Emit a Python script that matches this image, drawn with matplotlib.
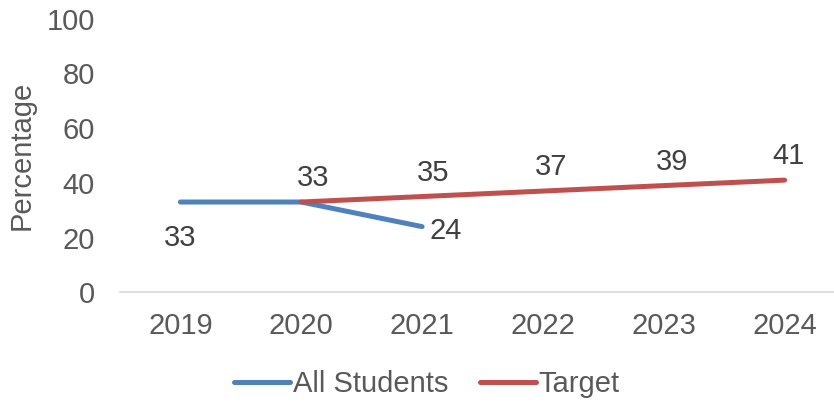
import matplotlib
matplotlib.use("Agg")
import matplotlib.pyplot as plt
from matplotlib.lines import Line2D

plt.rcParams['font.family'] = ['Liberation Sans', 'DejaVu Sans']

years = ["2019", "2020", "2021", "2022", "2023", "2024"]
all_students = [33, 33, 24]
target = [33, 35, 37, 39, 41]
y_ticks = [0, 20, 40, 60, 80, 100]

blue = "#4F81BD"
red = "#C0504D"
txt = "#595959"
lbl = "#404040"
FS = 21

fig = plt.figure(figsize=(8.34, 4.03), dpi=100)
W, H = 834, 403
ax = fig.add_axes([120 / W, (H - 292.3) / H, 725 / W, 273.6 / H])

x_all = list(range(len(all_students)))
x_tgt = list(range(1, 1 + len(target)))
ax.plot(x_all, all_students, color=blue, lw=3.6, solid_capstyle='round', zorder=3)
ax.plot(x_tgt, target, color=red, lw=3.6, solid_capstyle='round', zorder=4)

ax.set_xlim(-0.5, len(years) - 0.5)
ax.set_ylim(0, 100)
ax.set_yticks(y_ticks)
ax.set_xticks(range(len(years)))
ax.set_xticklabels(years)
ax.tick_params(axis='both', length=0, labelsize=FS, colors=txt)
ax.tick_params(axis='y', pad=18)
ax.tick_params(axis='x', pad=14)
for s in ['top', 'right', 'left']:
    ax.spines[s].set_visible(False)
ax.spines['bottom'].set_color("#D9D9D9")
ax.spines['bottom'].set_linewidth(1.2)

ax.set_ylabel("Percentage", fontsize=FS, color=txt)
ax.yaxis.set_label_coords(-0.117, 0.5)

# data labels
ax.annotate(str(all_students[0]), (x_all[0], all_students[0]), xytext=(0, -36),
            textcoords='offset pixels', ha='center', va='center', fontsize=FS, color=lbl)
ax.annotate(str(all_students[2]), (x_all[2], all_students[2]), xytext=(24, -4),
            textcoords='offset pixels', ha='center', va='center', fontsize=FS, color=lbl)
dx_offsets = [12, 11, 8, 8, 4]
for xi, v, dx in zip(x_tgt, target, dx_offsets):
    ax.annotate(str(v), (xi, v), xytext=(dx, 24), textcoords='offset pixels',
                ha='center', va='center', fontsize=FS, color=lbl)

handles = [Line2D([], [], color=blue, lw=3.6, solid_capstyle='round'),
           Line2D([], [], color=red, lw=3.6, solid_capstyle='round')]
leg = fig.legend(handles, ["All Students", "Target"], loc='center',
                 bbox_to_anchor=(427 / W, 1 - 384 / H), ncol=2, frameon=False,
                 fontsize=FS, handlelength=1.9, handletextpad=0.1, columnspacing=1.1,
                 labelcolor=txt)

fig.savefig("out.png", dpi=100)
